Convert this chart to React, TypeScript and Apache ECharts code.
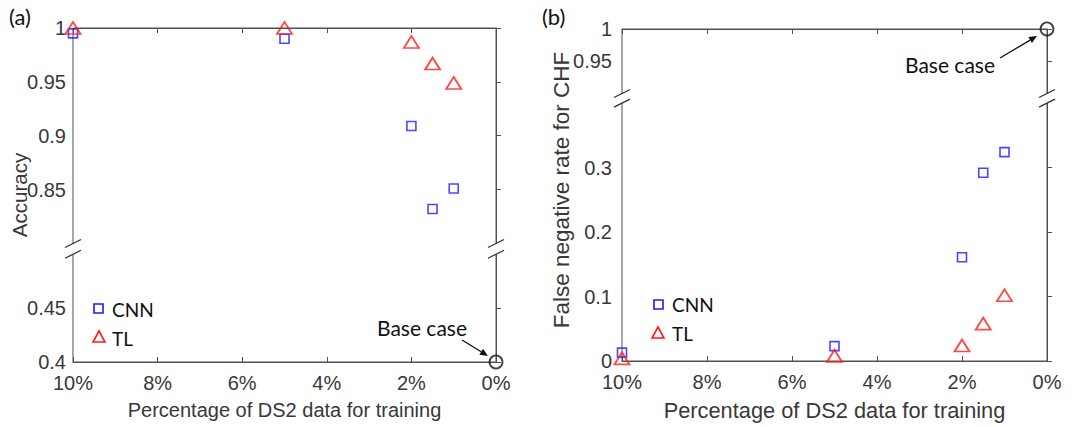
import React, { useEffect, useRef } from "react";
import * as echarts from "echarts";

// ---- data ----
const xPercent = [10, 5, 2, 1.5, 1];
const accCNN = [0.995, 0.99, 0.909, 0.832, 0.851];
const accTL = [1.0, 1.0, 0.987, 0.967, 0.949];
const baseAcc = [[0, 0.4]];
const fnrCNN = [0.013, 0.023, 0.161, 0.292, 0.324];
const fnrTL = [0.004, 0.008, 0.024, 0.058, 0.102];
const baseFnr = [[0, 1.0]];
const accTicks = [0.4, 0.45, 0.85, 0.9, 0.95, 1];
const fnrTicks = [0, 0.1, 0.2, 0.3, 0.95, 1];

// broken-axis transforms
const A_SHIFT = 0.29; // values below 0.8 shifted up
const tA = (v: number) => (v < 0.7 ? v + A_SHIFT : v);
const invA = (v: number) => (v < 0.795 ? v - A_SHIFT : v);
const B_SHIFT = 0.485; // values above 0.9 shifted down
const tB = (v: number) => (v > 0.6 ? v - B_SHIFT : v);
const invB = (v: number) => (v > 0.405 ? v + B_SHIFT : v);

const fmt = (v: number) => String(parseFloat(v.toFixed(3)));

const AX = "#505050";
const TX = "#383838";
const TICK_FONT = "'Liberation Sans', Arial, sans-serif";
const ANN_FONT = "Lato, 'Open Sans', sans-serif";
const FS = 20;

export default function App() {
  const ref = useRef<HTMLDivElement>(null);
  useEffect(() => {
    document.body.style.margin = "0";
    const chart = echarts.init(ref.current!, undefined, { renderer: "svg" });

    const xAxisBase = (gridIndex: number, nameSize: number) => ({
      type: "value" as const,
      gridIndex,
      min: 0,
      max: 10,
      interval: 2,
      inverse: true,
      axisLine: { show: true, lineStyle: { color: AX, width: 1 } },
      axisTick: { show: true, inside: true, length: 5, lineStyle: { color: AX } },
      axisLabel: {
        color: TX,
        fontSize: FS,
        fontFamily: TICK_FONT,
        margin: 11,
        formatter: (v: number) => v + "%",
      },
      splitLine: { show: false },
      name: "Percentage of DS2 data for training",
      nameLocation: "middle" as const,
      nameGap: 38,
      nameTextStyle: { color: TX, fontSize: nameSize, fontFamily: TICK_FONT },
    });
    const xAxisTop = (gridIndex: number) => ({
      type: "value" as const,
      gridIndex,
      position: "top" as const,
      min: 0,
      max: 10,
      interval: 2,
      inverse: true,
      axisLine: { show: true, lineStyle: { color: AX, width: 1 } },
      axisTick: { show: true, inside: true, length: 5, lineStyle: { color: AX } },
      axisLabel: { show: false },
      splitLine: { show: false },
    });

    const sq = (name: string, xi: number, yi: number, data: number[][]) => ({
      name,
      type: "scatter" as const,
      xAxisIndex: xi,
      yAxisIndex: yi,
      symbol: "rect",
      symbolSize: 9,
      itemStyle: { color: "rgba(0,0,0,0)", borderColor: "#1a1aff", borderWidth: 1.6 },
      data,
      z: 3,
    });
    const tri = (name: string, xi: number, yi: number, data: number[][]) => ({
      name,
      type: "scatter" as const,
      xAxisIndex: xi,
      yAxisIndex: yi,
      symbol: "triangle",
      symbolSize: [15, 12],
      itemStyle: { color: "rgba(0,0,0,0)", borderColor: "#ff1a1a", borderWidth: 1.8 },
      data,
      z: 4,
    });
    const circ = (xi: number, yi: number, data: number[][]) => ({
      type: "scatter" as const,
      xAxisIndex: xi,
      yAxisIndex: yi,
      symbol: "circle",
      symbolSize: 13,
      itemStyle: { color: "rgba(0,0,0,0)", borderColor: "#111", borderWidth: 1.8 },
      data,
      z: 5,
    });

    const yLabel = (fmtFn: (v: number) => string, vals: number[], margin: number) => ({
      color: TX,
      fontSize: FS,
      fontFamily: TICK_FONT,
      margin,
      customValues: vals,
      formatter: fmtFn,
    });

    const option: any = {
      animation: false,
      backgroundColor: "#ffffff",
      grid: [
        { left: 73, top: 28, width: 423, height: 334, show: true, borderColor: AX, borderWidth: 1 },
        { left: 622, top: 29, width: 425, height: 332, show: true, borderColor: AX, borderWidth: 1 },
      ],
      xAxis: [xAxisBase(0, 20), xAxisTop(0), xAxisBase(1, 21.8), xAxisTop(1)],
      yAxis: [
        {
          type: "value",
          gridIndex: 0,
          min: tA(0.4),
          max: 1,
          axisLine: { show: true, lineStyle: { color: AX } },
          axisTick: { show: true, inside: true, length: 5, lineStyle: { color: AX }, customValues: accTicks.map(tA) },
          axisLabel: yLabel((v: number) => fmt(invA(v)), accTicks.map(tA), 7),
          splitLine: { show: false },
        },
        {
          type: "value",
          gridIndex: 1,
          min: 0,
          max: tB(1),
          axisLine: { show: true, lineStyle: { color: AX } },
          axisTick: { show: true, inside: true, length: 5, lineStyle: { color: AX }, customValues: fnrTicks.map(tB) },
          axisLabel: yLabel((v: number) => fmt(invB(v)), fnrTicks.map(tB), 10),
          splitLine: { show: false },
        },
      ],
      series: [
        sq("CNN", 0, 0, xPercent.map((x, i) => [x, tA(accCNN[i])])),
        tri("TL", 0, 0, xPercent.map((x, i) => [x, tA(accTL[i])])),
        circ(0, 0, baseAcc.map(([x, y]) => [x, tA(y)])),
        sq("CNN", 2, 1, xPercent.map((x, i) => [x, tB(fnrCNN[i])])),
        tri("TL", 2, 1, xPercent.map((x, i) => [x, tB(fnrTL[i])])),
        circ(2, 1, baseFnr.map(([x, y]) => [x, tB(y)])),
      ],
    };
    chart.setOption(option);

    const gfx: any[] = [];

    // y axis titles
    const yTitle = (x: number, y: number, text: string, size: number) =>
      gfx.push({
        type: "text",
        x,
        y,
        rotation: Math.PI / 2,
        style: { text, fill: TX, fontSize: size, fontFamily: TICK_FONT, align: "center", verticalAlign: "middle" },
        z: 90,
      });
    yTitle(19, 195, "Accuracy", 20.5);
    yTitle(561, 190, "False negative rate for CHF", 22.5);

    // break marks, computed from axis scales
    const addBreak = (xs: number[], yHi: number, yLo: number) => {
      for (const x of xs) {
        gfx.push({
          type: "rect",
          shape: { x: x - 3, y: yHi, width: 6, height: yLo - yHi },
          style: { fill: "#ffffff" },
          z: 100,
        });
        for (const yy of [yHi, yLo]) {
          gfx.push({
            type: "line",
            shape: { x1: x - 8, y1: yy + 4, x2: x + 8, y2: yy - 4 },
            style: { stroke: "#333", lineWidth: 1.3 },
            z: 101,
          });
        }
      }
    };
    const a1 = chart.convertToPixel({ gridIndex: 0 } as any, [0, 0.8]) as number[];
    const a2 = chart.convertToPixel({ gridIndex: 0 } as any, [0, tA(0.5)]) as number[];
    addBreak([73, 496], a1[1], a2[1]);
    const b1 = chart.convertToPixel({ gridIndex: 1 } as any, [0, tB(0.9)]) as number[];
    const b2 = chart.convertToPixel({ gridIndex: 1 } as any, [0, 0.4]) as number[];
    addBreak([622, 1047], b1[1], b2[1]);

    const arrow = (x1: number, y1: number, x2: number, y2: number) => {
      const ang = Math.atan2(y2 - y1, x2 - x1);
      const L = 8, W = 3.5;
      const bx = x2 - L * Math.cos(ang), by = y2 - L * Math.sin(ang);
      const px = -Math.sin(ang) * W, py = Math.cos(ang) * W;
      gfx.push({
        type: "line",
        shape: { x1, y1, x2: bx, y2: by },
        style: { stroke: "#111", lineWidth: 1.3 },
        z: 110,
      });
      gfx.push({
        type: "polygon",
        shape: { points: [[x2, y2], [bx + px, by + py], [bx - px, by - py]] },
        style: { fill: "#111" },
        z: 110,
      });
    };
    arrow(462, 340, 488, 356);
    arrow(1000, 58, 1037, 36);

    const txt = (x: number, y: number, text: string, size: number, align = "left") =>
      gfx.push({
        type: "text",
        x,
        y,
        style: { text, fill: "#111", fontSize: size, fontFamily: ANN_FONT, align, verticalAlign: "middle" },
        z: 120,
      });
    txt(422, 327, "Base case", 21, "center");
    txt(950, 64, "Base case", 21, "center");
    txt(9, 16, "(a)", 22);
    txt(542, 16, "(b)", 22);
    txt(112, 309, "CNN", 19);
    txt(112, 338, "TL", 19);
    txt(672, 304, "CNN", 19);
    txt(672, 333, "TL", 19);

    // legend markers
    gfx.push({ type: "rect", shape: { x: 94, y: 304, width: 9, height: 9 }, style: { fill: "none", stroke: "#1a1aff", lineWidth: 1.6 }, z: 120 });
    gfx.push({ type: "polygon", shape: { points: [[99, 331], [105, 342], [93, 342]] }, style: { fill: "none", stroke: "#ff1a1a", lineWidth: 1.6 }, z: 120 });
    gfx.push({ type: "rect", shape: { x: 654, y: 300, width: 9, height: 9 }, style: { fill: "none", stroke: "#1a1aff", lineWidth: 1.6 }, z: 120 });
    gfx.push({ type: "polygon", shape: { points: [[658, 327], [664, 338], [652, 338]] }, style: { fill: "none", stroke: "#ff1a1a", lineWidth: 1.6 }, z: 120 });

    chart.setOption({ graphic: gfx });

    return () => chart.dispose();
  }, []);
  return (
    <div
      ref={ref}
      style={{ position: "fixed", left: 0, top: 0, width: 1076, height: 427, background: "#fff" }}
    />
  );
}
